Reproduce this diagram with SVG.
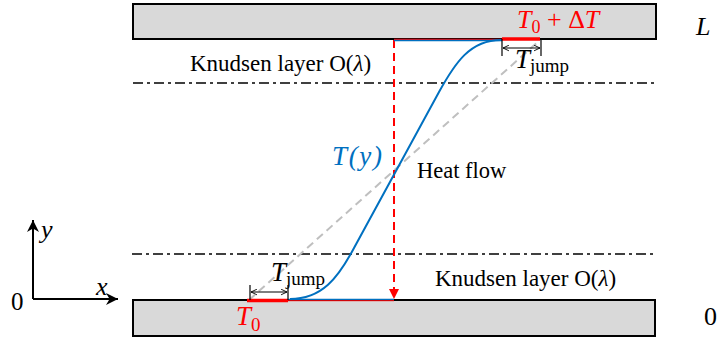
<svg xmlns="http://www.w3.org/2000/svg" width="717" height="339" viewBox="0 0 717 339">
<defs>
<style>
.plate{fill:#D9D9D9;stroke:#000;stroke-width:2}
.dashdot{fill:none;stroke:#000;stroke-width:1.5;stroke-dasharray:10 4 3 4}
.txt{font-family:"Liberation Serif","Times New Roman",serif;fill:#000}
.mi{font-family:"Liberation Serif","Times New Roman",serif;font-style:italic}
.red{fill:#FF0000}
.blue{fill:#0070C0}
.dim{fill:none;stroke:#000;stroke-width:1.2}
</style>
<marker id="ah" viewBox="0 0 10 10" refX="9.5" refY="5" markerWidth="7" markerHeight="7" orient="auto-start-reverse" markerUnits="userSpaceOnUse">
<path d="M1,1 L9.5,5 L1,9" fill="none" stroke="#000" stroke-width="1.3"/>
</marker>
<marker id="axis" viewBox="0 0 10 10" refX="10" refY="5" markerWidth="12" markerHeight="12" orient="auto" markerUnits="userSpaceOnUse">
<path d="M0,0 L10,5 L0,10 L3,5 Z" fill="#000"/>
</marker>
<marker id="redhead" viewBox="0 0 10 10" refX="10" refY="5" markerWidth="10" markerHeight="10" orient="auto" markerUnits="userSpaceOnUse">
<path d="M0,0 L10,5 L0,10 Z" fill="#FF0000"/>
</marker>
</defs>

<g id="top-plate">
<rect class="plate" x="133" y="4" width="523" height="35"/>
<text class="red" x="517" y="28" font-family="Liberation Serif, serif" font-size="26"><tspan font-style="italic">T</tspan><tspan font-size="18" dy="5">0</tspan><tspan dy="-5"> + Δ</tspan><tspan font-style="italic">T</tspan></text>
</g>

<g id="bottom-plate">
<rect class="plate" x="133" y="300" width="522" height="36"/>
<text class="red" x="236" y="325" font-family="Liberation Serif, serif" font-size="27"><tspan font-style="italic">T</tspan><tspan font-size="19" dy="6">0</tspan></text>
</g>

<g id="knudsen-lines">
<line class="dashdot" x1="133" y1="83" x2="655" y2="83"/>
<line class="dashdot" x1="132" y1="254" x2="655" y2="254"/>
</g>

<g id="labels">
<text class="txt" x="190" y="71" font-size="23">Knudsen layer O(<tspan font-style="italic">λ</tspan>)</text>
<text class="txt" x="435" y="286" font-size="23">Knudsen layer O(<tspan font-style="italic">λ</tspan>)</text>
<text class="txt" x="417" y="178" font-size="22.5">Heat flow</text>
<text class="blue" x="332" y="165" font-family="Liberation Serif, serif" font-size="27" font-style="italic" textLength="50" lengthAdjust="spacing">T(y)</text>
<text class="txt mi" x="696" y="35" font-size="26">L</text>
<text class="txt" x="704" y="325" font-size="26">0</text>
</g>

<g id="axes">
<line x1="33" y1="299" x2="33" y2="220" stroke="#000" stroke-width="2" marker-end="url(#axis)"/>
<line x1="33" y1="299" x2="118" y2="299" stroke="#000" stroke-width="2" marker-end="url(#axis)"/>
<text class="txt mi" x="41" y="238" font-size="26">y</text>
<text class="txt mi" x="96" y="295" font-size="26">x</text>
<text class="txt" x="11" y="310" font-size="25">0</text>
</g>

<g id="connectors">
<line x1="249" y1="300" x2="540" y2="40" stroke="#BFBFBF" stroke-width="2" stroke-dasharray="8 5"/>
<line x1="394" y1="40" x2="394" y2="299" stroke="#FF0000" stroke-width="2" stroke-dasharray="8 5" marker-end="url(#redhead)"/>
<line x1="394" y1="39.3" x2="502" y2="39.3" stroke="#FF0000" stroke-width="1.2"/>
<line x1="394" y1="40.6" x2="502" y2="40.6" stroke="#0070C0" stroke-width="1.5"/>
<line x1="288" y1="299.4" x2="394" y2="299.4" stroke="#0070C0" stroke-width="1.5"/>
<line x1="288" y1="300.7" x2="394" y2="300.7" stroke="#FF0000" stroke-width="1"/>
<line x1="502" y1="39" x2="540" y2="39" stroke="#FF0000" stroke-width="3.5"/>
<line x1="247" y1="300.5" x2="288" y2="300.5" stroke="#FF0000" stroke-width="3.5"/>
<path d="M290,299 C322,299 338,278 354,248 L439,92 C455,63 470,40 501,40" fill="none" stroke="#0070C0" stroke-width="2"/>
</g>

<g id="tjump-top">
<line class="dim" x1="502" y1="39" x2="502" y2="56"/>
<line class="dim" x1="541" y1="39" x2="541" y2="56"/>
<line class="dim" x1="503" y1="48" x2="540" y2="48" marker-start="url(#ah)" marker-end="url(#ah)"/>
<text class="txt" x="515" y="68" font-size="27"><tspan font-style="italic">T</tspan><tspan font-size="19" dy="4">jump</tspan></text>
</g>

<g id="tjump-bottom">
<line class="dim" x1="250" y1="285" x2="250" y2="300"/>
<line class="dim" x1="288" y1="285" x2="288" y2="300"/>
<line class="dim" x1="251" y1="292" x2="287" y2="292" marker-start="url(#ah)" marker-end="url(#ah)"/>
<text class="txt" x="271" y="281" font-size="27"><tspan font-style="italic">T</tspan><tspan font-size="19" dy="4">jump</tspan></text>
</g>
</svg>
